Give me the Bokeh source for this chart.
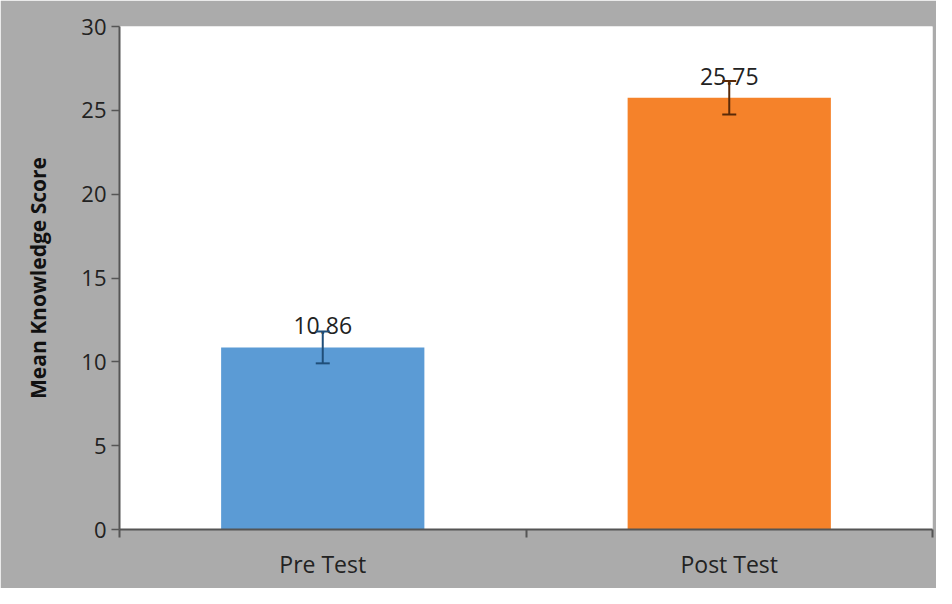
from bokeh.plotting import figure
from bokeh.models import ColumnDataSource, Range1d, FixedTicker, Whisker, TeeHead
from bokeh.core.properties import value
from bokeh.embed import file_html
from bokeh.resources import INLINE

categories = ["Pre Test", "Post Test"]
means = [10.86, 25.75]
errors = [0.95, 1.0]
bar_colors = ["#5b9bd5", "#f5822a"]
err_colors = ["#1f4e79", "#5a2a08"]
labels = ["10.86", "25.75"]

xs = [i + 0.5 for i in range(len(categories))]
src = ColumnDataSource(dict(
    x=xs, top=means, color=bar_colors,
    lower=[m - e for m, e in zip(means, errors)],
    upper=[m + e for m, e in zip(means, errors)],
    ecolor=err_colors, label=labels,
))

FONT = "Open Sans"
p = figure(width=936, height=588, output_backend="svg", toolbar_location=None,
           x_range=Range1d(0, len(categories)), y_range=Range1d(0, 30),
           min_border_left=119, min_border_right=4, min_border_top=26, min_border_bottom=59)
p.background_fill_color = "white"
p.border_fill_color = "#ababab"
p.outline_line_color = None
p.grid.visible = False

p.vbar(x="x", top="top", width=0.5, bottom=0, color="color", line_color=None, source=src)

for i in range(len(categories)):
    w = Whisker(base=xs[i], lower=src.data["lower"][i], upper=src.data["upper"][i],
                line_color=err_colors[i], line_width=2, level="overlay",
                upper_head=TeeHead(size=14, line_color=err_colors[i], line_width=2),
                lower_head=TeeHead(size=14, line_color=err_colors[i], line_width=2))
    p.add_layout(w)

p.text(x="x", y="top", text="label", source=src, text_align="center", text_baseline="bottom",
       y_offset=-13, text_font=value(FONT), text_font_size="23px", text_color="#222222")

# x axis
p.xaxis.ticker = FixedTicker(ticks=xs, minor_ticks=list(range(len(categories) + 1)))
p.xaxis.major_label_overrides = {x: c for x, c in zip(xs, categories)}
p.xaxis.major_tick_out = 0
p.xaxis.major_tick_in = 0
p.xaxis.minor_tick_out = 8
p.xaxis.minor_tick_in = 0
p.xaxis.minor_tick_line_color = "#555555"
p.xaxis.minor_tick_line_width = 2
p.xaxis.axis_line_color = "#555555"
p.xaxis.axis_line_width = 2
p.xaxis.major_label_text_font = FONT
p.xaxis.major_label_text_font_size = "23px"
p.xaxis.major_label_text_color = "#222222"
p.xaxis.major_label_standoff = 10

# y axis
p.yaxis.ticker = FixedTicker(ticks=[0, 5, 10, 15, 20, 25, 30])
p.yaxis.major_tick_out = 8
p.yaxis.major_tick_in = 0
p.yaxis.major_tick_line_color = "#555555"
p.yaxis.major_tick_line_width = 1.5
p.yaxis.minor_tick_line_color = None
p.yaxis.axis_line_color = "#555555"
p.yaxis.axis_line_width = 2
p.yaxis.major_label_text_font = FONT
p.yaxis.major_label_text_font_size = "22px"
p.yaxis.major_label_text_color = "#222222"
p.yaxis.major_label_standoff = 5
p.yaxis.axis_label = "Mean Knowledge Score"
p.yaxis.axis_label_text_font = FONT
p.yaxis.axis_label_text_font_style = "bold"
p.yaxis.axis_label_text_font_size = "21px"
p.yaxis.axis_label_text_color = "#111111"
p.yaxis.axis_label_standoff = 26

open("out.html", "w").write(file_html(p, INLINE))
